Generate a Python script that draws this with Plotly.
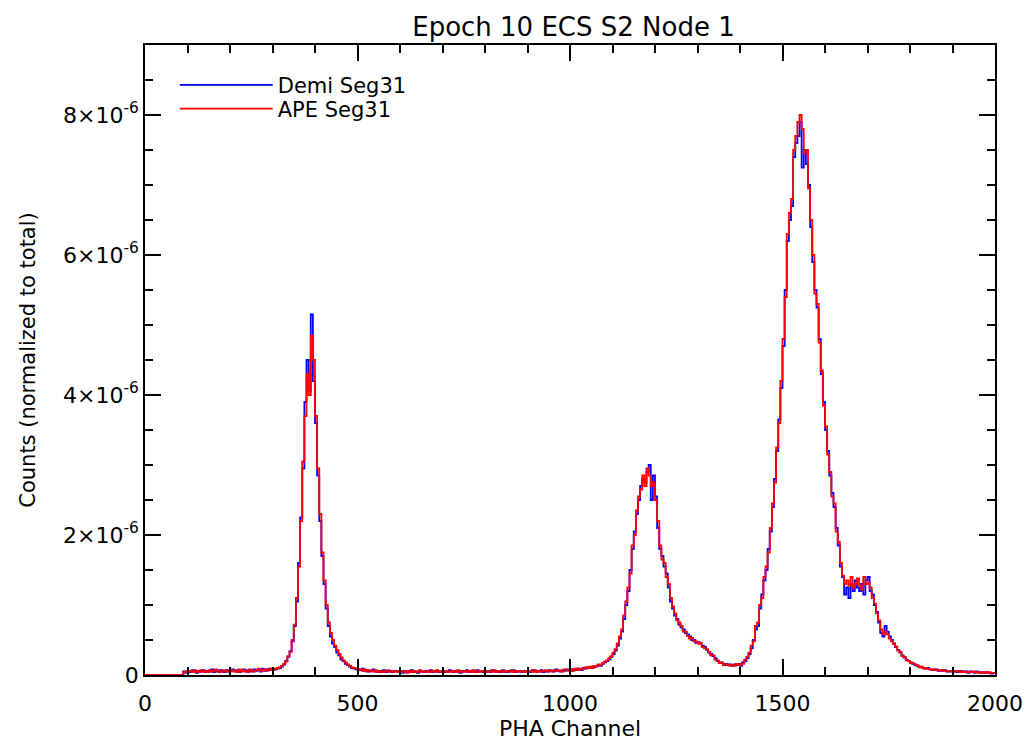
import plotly.graph_objects as go

# PHA channel bins (every 5 channels)
channel = list(range(0, 2001, 5))

# counts normalised to total, in units of 1e-6
demi = [
    0, 0, 0, 0, 0, 0, 0, 0, 0, 0, 0, 0, 0, 0, 0, 0, 0, 0, 0.05, 0.03,
    0.06, 0.04, 0.07, 0.05, 0.03, 0.06, 0.05, 0.07, 0.04, 0.06, 0.05, 0.08, 0.04, 0.06, 0.05, 0.07, 0.06, 0.04, 0.07, 0.05,
    0.06, 0.08, 0.05, 0.07, 0.04, 0.06, 0.08, 0.05, 0.07, 0.06, 0.05, 0.08, 0.06, 0.07, 0.05, 0.09, 0.06, 0.08, 0.07, 0.09,
    0.07, 0.08, 0.09, 0.10, 0.12, 0.15, 0.20, 0.26, 0.34, 0.48, 0.70, 1.05, 1.60, 2.25, 2.95, 3.90, 4.50, 4.05, 5.15, 4.20,
    3.60, 2.85, 2.20, 1.70, 1.30, 0.95, 0.70, 0.55, 0.45, 0.40, 0.32, 0.28, 0.22, 0.20, 0.16, 0.14, 0.12, 0.10, 0.09, 0.08,
    0.08, 0.07, 0.09, 0.06, 0.07, 0.05, 0.06, 0.08, 0.05, 0.06, 0.04, 0.06, 0.07, 0.04, 0.05, 0.06, 0.04, 0.06, 0.05, 0.04,
    0.05, 0.03, 0.06, 0.04, 0.05, 0.07, 0.04, 0.05, 0.03, 0.06, 0.05, 0.04, 0.06, 0.05, 0.07, 0.04, 0.05, 0.06, 0.04, 0.05,
    0.06, 0.04, 0.05, 0.07, 0.05, 0.04, 0.06, 0.05, 0.03, 0.06, 0.05, 0.07, 0.04, 0.05, 0.06, 0.04, 0.07, 0.05, 0.06, 0.04,
    0.05, 0.06, 0.04, 0.07, 0.05, 0.06, 0.04, 0.05, 0.07, 0.05, 0.04, 0.06, 0.05, 0.07, 0.04, 0.06, 0.05, 0.04, 0.06, 0.05,
    0.06, 0.04, 0.07, 0.05, 0.06, 0.05, 0.07, 0.04, 0.06, 0.05, 0.07, 0.06, 0.05, 0.08, 0.06, 0.05, 0.07, 0.06, 0.08, 0.07,
    0.06, 0.08, 0.07, 0.09, 0.08, 0.07, 0.10, 0.09, 0.11, 0.10, 0.12, 0.11, 0.13, 0.14, 0.13, 0.16, 0.18, 0.20, 0.22, 0.26,
    0.30, 0.35, 0.42, 0.52, 0.62, 0.80, 1.00, 1.20, 1.50, 1.80, 2.05, 2.30, 2.50, 2.70, 2.80, 2.75, 2.90, 3.00, 2.50, 2.85,
    2.55, 2.10, 1.80, 1.70, 1.55, 1.45, 1.25, 1.05, 0.95, 0.85, 0.80, 0.72, 0.68, 0.65, 0.60, 0.58, 0.55, 0.50, 0.50, 0.46,
    0.47, 0.45, 0.42, 0.40, 0.36, 0.32, 0.30, 0.27, 0.24, 0.20, 0.18, 0.17, 0.15, 0.16, 0.14, 0.15, 0.13, 0.15, 0.14, 0.16,
    0.13, 0.18, 0.20, 0.24, 0.30, 0.38, 0.50, 0.65, 0.70, 0.95, 1.15, 1.35, 1.50, 1.80, 2.05, 2.40, 2.80, 3.20, 3.65, 4.10,
    4.70, 5.50, 6.20, 6.50, 6.70, 7.40, 7.60, 7.70, 7.90, 7.25, 7.50, 7.30, 7.00, 6.40, 5.90, 5.50, 5.25, 4.80, 4.30, 3.90,
    3.50, 3.20, 2.85, 2.60, 2.40, 2.10, 1.85, 1.55, 1.40, 1.15, 1.25, 1.10, 1.30, 1.20, 1.35, 1.25, 1.20, 1.30, 1.15, 1.35,
    1.40, 1.20, 1.15, 1.00, 0.90, 0.75, 0.60, 0.55, 0.70, 0.62, 0.55, 0.50, 0.45, 0.40, 0.36, 0.32, 0.28, 0.25, 0.22, 0.20,
    0.18, 0.16, 0.15, 0.13, 0.12, 0.11, 0.10, 0.09, 0.10, 0.08, 0.08, 0.07, 0.08, 0.06, 0.07, 0.06, 0.07, 0.05, 0.06, 0.05,
    0.06, 0.05, 0.04, 0.06, 0.05, 0.04, 0.05, 0.03, 0.05, 0.04, 0.03, 0.05, 0.04, 0.03, 0.04, 0.03, 0.04, 0.03, 0.02, 0.03,
    0.03,
]

ape = [
    0, 0, 0, 0, 0, 0, 0, 0, 0, 0, 0, 0, 0, 0, 0, 0, 0, 0, 0.04, 0.05,
    0.05, 0.06, 0.04, 0.07, 0.05, 0.04, 0.07, 0.05, 0.06, 0.04, 0.07, 0.05, 0.06, 0.08, 0.05, 0.04, 0.07, 0.06, 0.05, 0.07,
    0.05, 0.07, 0.06, 0.04, 0.08, 0.05, 0.07, 0.06, 0.04, 0.08, 0.06, 0.05, 0.07, 0.09, 0.06, 0.07, 0.08, 0.06, 0.09, 0.08,
    0.09, 0.08, 0.10, 0.11, 0.13, 0.16, 0.19, 0.27, 0.33, 0.50, 0.72, 1.10, 1.55, 2.20, 3.05, 3.70, 4.30, 4.00, 4.85, 4.50,
    3.70, 2.95, 2.30, 1.75, 1.35, 1.00, 0.75, 0.60, 0.50, 0.42, 0.36, 0.30, 0.25, 0.21, 0.18, 0.15, 0.13, 0.11, 0.10, 0.09,
    0.07, 0.08, 0.06, 0.08, 0.05, 0.07, 0.06, 0.05, 0.07, 0.04, 0.06, 0.05, 0.04, 0.06, 0.07, 0.05, 0.04, 0.05, 0.06, 0.04,
    0.04, 0.06, 0.05, 0.03, 0.06, 0.04, 0.06, 0.04, 0.05, 0.07, 0.04, 0.05, 0.05, 0.06, 0.04, 0.06, 0.05, 0.07, 0.05, 0.04,
    0.05, 0.06, 0.04, 0.05, 0.06, 0.05, 0.04, 0.07, 0.05, 0.04, 0.06, 0.05, 0.06, 0.04, 0.07, 0.05, 0.04, 0.06, 0.05, 0.06,
    0.06, 0.04, 0.06, 0.05, 0.07, 0.04, 0.06, 0.06, 0.04, 0.06, 0.05, 0.05, 0.07, 0.04, 0.06, 0.05, 0.06, 0.05, 0.04, 0.06,
    0.05, 0.06, 0.05, 0.07, 0.04, 0.06, 0.05, 0.06, 0.07, 0.05, 0.06, 0.05, 0.07, 0.06, 0.07, 0.06, 0.05, 0.08, 0.07, 0.06,
    0.08, 0.06, 0.09, 0.07, 0.09, 0.08, 0.09, 0.11, 0.10, 0.12, 0.10, 0.13, 0.12, 0.15, 0.14, 0.17, 0.19, 0.21, 0.24, 0.27,
    0.32, 0.37, 0.45, 0.55, 0.65, 0.85, 1.05, 1.25, 1.45, 1.85, 2.00, 2.35, 2.55, 2.65, 2.85, 2.70, 2.95, 2.85, 2.70, 2.75,
    2.50, 2.20, 1.85, 1.65, 1.60, 1.40, 1.30, 1.10, 0.98, 0.88, 0.78, 0.75, 0.70, 0.62, 0.62, 0.56, 0.52, 0.53, 0.48, 0.48,
    0.45, 0.46, 0.40, 0.38, 0.37, 0.33, 0.28, 0.28, 0.22, 0.21, 0.17, 0.18, 0.14, 0.15, 0.15, 0.13, 0.14, 0.13, 0.16, 0.14,
    0.15, 0.16, 0.22, 0.26, 0.32, 0.42, 0.48, 0.70, 0.75, 1.00, 1.10, 1.40, 1.55, 1.75, 2.10, 2.45, 2.75, 3.25, 3.60, 4.20,
    4.80, 5.40, 6.30, 6.60, 6.80, 7.50, 7.70, 7.90, 8.00, 7.80, 7.45, 7.50, 6.95, 6.50, 6.00, 5.45, 5.30, 4.75, 4.35, 3.85,
    3.55, 3.15, 2.90, 2.55, 2.45, 2.05, 1.90, 1.60, 1.42, 1.30, 1.35, 1.28, 1.40, 1.25, 1.30, 1.38, 1.28, 1.22, 1.40, 1.30,
    1.32, 1.25, 1.10, 1.02, 0.88, 0.78, 0.65, 0.58, 0.62, 0.58, 0.52, 0.48, 0.44, 0.41, 0.35, 0.33, 0.27, 0.26, 0.21, 0.20,
    0.17, 0.17, 0.14, 0.14, 0.11, 0.12, 0.09, 0.10, 0.09, 0.08, 0.07, 0.08, 0.07, 0.07, 0.06, 0.07, 0.06, 0.06, 0.05, 0.06,
    0.05, 0.06, 0.05, 0.05, 0.04, 0.05, 0.04, 0.04, 0.04, 0.05, 0.04, 0.04, 0.03, 0.04, 0.03, 0.04, 0.03, 0.04, 0.03, 0.03,
    0.02,
]

scale = 1e-6
y_tickvals = [0, 2e-6, 4e-6, 6e-6, 8e-6]
y_ticktext = ["0", "2×10<sup>-6</sup>", "4×10<sup>-6</sup>", "6×10<sup>-6</sup>", "8×10<sup>-6</sup>"]
x_tickvals = [0, 500, 1000, 1500, 2000]

fig = go.Figure()

fig.add_trace(go.Scatter(
    x=channel, y=[v * scale for v in demi],
    mode="lines", line_shape="hv",
    line=dict(color="#0000ff", width=1.8),
    name="Demi Seg31", legend="legend"
))
fig.add_trace(go.Scatter(
    x=channel, y=[v * scale for v in ape],
    mode="lines", line_shape="hv",
    line=dict(color="#ff0000", width=1.8),
    name="APE Seg31", legend="legend2"
))

axis_common = dict(
    showline=True, linecolor="black", linewidth=1.5,
    mirror="allticks", ticks="inside", tickcolor="black",
    tickwidth=1.5, ticklen=16, showgrid=False, zeroline=False,
    automargin=False,
    tickfont=dict(family="DejaVu Sans", size=22, color="black"),
)

legend_common = dict(
    x=0.035, xanchor="left", yanchor="middle",
    bgcolor="rgba(0,0,0,0)", itemwidth=93,
    font=dict(family="DejaVu Sans", size=21, color="black"),
)

# the page body adds about 8 px, so the figure is a little smaller than the window
fig.update_layout(
    width=1025, height=736,
    margin=dict(l=137, r=38, t=37, b=69, autoexpand=False),
    paper_bgcolor="white", plot_bgcolor="white",
    showlegend=True,
    font=dict(family="DejaVu Sans", color="black"),
    title=dict(text="Epoch 10 ECS S2 Node 1", x=0.5517, xanchor="center",
               y=0.974, yanchor="middle",
               font=dict(family="DejaVu Sans", size=26, color="black")),
    xaxis=dict(
        range=[0, 2000], tickvals=x_tickvals,
        minor=dict(ticks="inside", ticklen=8, dtick=100, tickcolor="black", tickwidth=1.5),
        title=dict(text="PHA Channel", font=dict(family="DejaVu Sans", size=22), standoff=4),
        ticklabelstandoff=8,
        **axis_common
    ),
    yaxis=dict(
        range=[0, 9e-6], tickvals=y_tickvals, ticktext=y_ticktext,
        minor=dict(ticks="inside", ticklen=8, dtick=0.5e-6, tickcolor="black", tickwidth=1.5),
        title=dict(text="Counts (normalized to total)", font=dict(family="DejaVu Sans", size=21), standoff=22),
        ticklabelstandoff=0,
        **axis_common
    ),
    legend=dict(y=0.936, **legend_common),
    legend2=dict(y=0.8985, **legend_common),
)

fig.write_html("out.html")
